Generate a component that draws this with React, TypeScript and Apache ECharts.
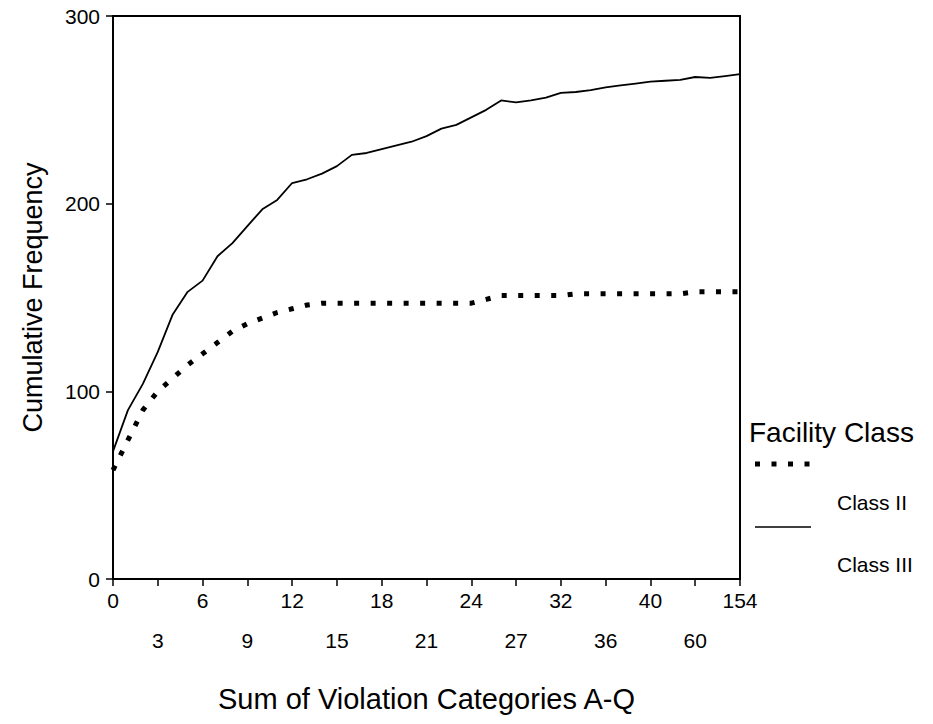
import React, { useEffect, useRef } from "react";
import * as echarts from "echarts";

// Category axis: observed sums of violation categories (labels shown every 3rd)
const categories: string[] = [
  "0", "1", "2", "3", "4", "5", "6", "7", "8", "9",
  "10", "11", "12", "13", "14", "15", "16", "17", "18", "19",
  "20", "21", "22", "23", "24", "25", "26", "27", "28", "30",
  "32", "33", "34", "36", "37", "38", "40", "45", "50", "60",
  "70", "90", "154",
];

// Cumulative frequency, Class II (dotted)
const classII: number[] = [
  58, 74, 90, 100, 107, 114, 120, 126, 132, 136,
  139, 142, 144, 146, 147, 147, 147, 147, 147, 147,
  147, 147, 147, 147, 147, 149, 151, 151, 151, 151,
  151, 152, 152, 152, 152, 152, 152, 152, 152, 153,
  153, 153, 153,
];

// Cumulative frequency, Class III (solid)
const classIII: number[] = [
  68, 90, 104, 121, 141, 153, 159, 172, 179, 188,
  197, 202, 211, 213, 216, 220, 226, 227, 229, 231,
  233, 236, 240, 242, 246, 250, 255, 254, 255, 256.5,
  259, 259.5, 260.5, 262, 263, 264, 265, 265.5, 266, 267.5,
  267, 268, 269,
];

const yTicks = { min: 0, max: 300, interval: 100 };

const seriesNames = ["Class II", "Class III"];
const legendTitle = "Facility Class";
const xTitle = "Sum of Violation Categories A-Q";
const yTitle = "Cumulative Frequency";

const FONT = "'Liberation Sans', Arial, Helvetica, sans-serif";
const DOT_DASH = [5, 11.5];

export default function App() {
  const ref = useRef<HTMLDivElement>(null);

  useEffect(() => {
    if (!ref.current) return;
    const chart = echarts.init(ref.current, undefined, { renderer: "svg" });
    const option: any = {
      animation: false,
      backgroundColor: "#ffffff",
      textStyle: { fontFamily: FONT, color: "#000" },
      grid: {
        left: 113,
        right: 193,
        top: 16,
        bottom: 145,
        show: true,
        borderColor: "#000",
        borderWidth: 2,
        containLabel: false,
      },
      xAxis: {
        type: "category",
        data: categories,
        boundaryGap: false,
        name: xTitle,
        nameLocation: "middle",
        nameGap: 105,
        nameTextStyle: { fontSize: 29, color: "#000", fontFamily: FONT },
        axisLine: { show: true, lineStyle: { color: "#000", width: 2 } },
        axisTick: { show: true, interval: 2, length: 7, inside: false, lineStyle: { color: "#000", width: 1.5 } },
        axisLabel: {
          interval: 2,
          margin: 1,
          fontSize: 21,
          lineHeight: 40,
          color: "#000",
          fontFamily: FONT,
          formatter: (value: string, index: number) =>
            Math.round(index / 3) % 2 === 1 ? "\n" + value : value,
        },
        splitLine: { show: false },
      },
      yAxis: {
        type: "value",
        min: yTicks.min,
        max: yTicks.max,
        interval: yTicks.interval,
        name: yTitle,
        nameLocation: "middle",
        nameRotate: 90,
        nameGap: 67,
        nameTextStyle: { fontSize: 27, color: "#000", fontFamily: FONT },
        axisLine: { show: true, lineStyle: { color: "#000", width: 2 } },
        axisTick: { show: true, length: 7, inside: false, lineStyle: { color: "#000", width: 1.5 } },
        axisLabel: { margin: 13, fontSize: 21, color: "#000", fontFamily: FONT },
        splitLine: { show: false },
      },
      series: [
        {
          name: seriesNames[0],
          type: "line",
          data: classII,
          showSymbol: false,
          symbol: "none",
          lineStyle: { color: "#000", width: 5, type: DOT_DASH, cap: "butt" },
          z: 3,
        },
        {
          name: seriesNames[1],
          type: "line",
          data: classIII,
          showSymbol: false,
          symbol: "none",
          lineStyle: { color: "#000", width: 1.8, type: "solid" },
          z: 4,
        },
      ],
      graphic: [
        {
          type: "text",
          left: 749,
          top: 418,
          style: { text: legendTitle, font: `28px ${FONT}`, fill: "#000" },
        },
        {
          type: "line",
          shape: { x1: 755, y1: 464, x2: 810, y2: 464 },
          style: { stroke: "#000", lineWidth: 5, lineDash: DOT_DASH },
        },
        {
          type: "text",
          left: 837,
          top: 492,
          style: { text: seriesNames[0], font: `21px ${FONT}`, fill: "#000" },
        },
        {
          type: "line",
          shape: { x1: 755, y1: 527, x2: 811, y2: 527 },
          style: { stroke: "#000", lineWidth: 1.5 },
        },
        {
          type: "text",
          left: 837,
          top: 554,
          style: { text: seriesNames[1], font: `21px ${FONT}`, fill: "#000" },
        },
      ],
    };
    chart.setOption(option);
    return () => chart.dispose();
  }, []);

  return (
    <div
      ref={ref}
      style={{ position: "absolute", left: 0, top: 0, width: 933, height: 724, background: "#fff" }}
    />
  );
}
